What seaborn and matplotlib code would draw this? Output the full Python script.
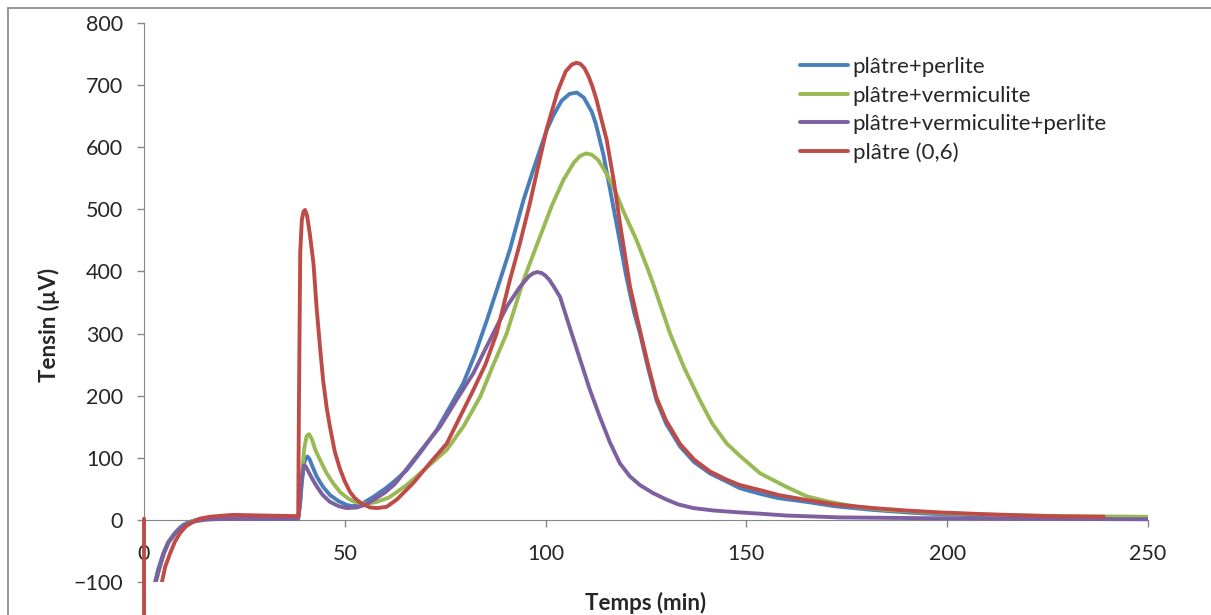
import pandas as pd
import matplotlib
matplotlib.use("Agg")
import matplotlib.pyplot as plt
import seaborn as sns
from matplotlib.lines import Line2D
from matplotlib.patches import Polygon

# --- data (time in min, signal in µV) ---
series_names = ["plâtre+perlite", "plâtre+vermiculite",
                "plâtre+vermiculite+perlite", "plâtre (0,6)"]

perlite_t = [1.5, 2.2, 2.7, 3.5, 4.8, 6, 7.7, 9, 10, 11.5, 13, 14.5, 16.4, 20, 30, 38.4,
             38.8, 39.3, 39.8, 40.3, 40.7, 41.2, 42, 43, 44.5, 46.3, 48.5, 50.5, 52, 54,
             57.1, 60, 62.5, 65.4, 69, 72.9, 76, 79.5, 82.5, 85.3, 88.6, 91.1, 94.5, 97,
             100.3, 102, 104, 106, 107.8, 109.5, 111.5, 112.5, 114.4, 116.4, 118, 120, 122,
             123.5, 125.5, 127.6, 130, 133.5, 137, 140.9, 145, 148.4, 153.4, 158, 165,
             172, 181.6, 190, 198.2, 210, 225, 250]
perlite_v = [-250, -150, -102, -80, -54, -36, -21, -12, -7, -3, 0, 2, 3, 4, 4, 4,
             20, 60, 90, 100, 102, 98, 85, 70, 54, 40, 30, 24, 22, 25,
             37, 50, 63, 80, 110, 145, 180, 220, 268, 320, 385, 435, 515, 565,
             628, 652, 675, 686, 688, 680, 657, 638, 588, 520, 465, 395, 335,
             300, 245, 193, 155, 118, 93, 75, 62, 51, 42, 35, 29,
             22, 16, 12, 9, 7, 5, 3]

vermic_t = [1.5, 2.4, 2.9, 3.8, 5, 6.2, 7.9, 9.2, 10.2, 11.7, 13.2, 14.7, 16.6, 20, 30, 38.4,
            38.9, 39.3, 39.9, 40.5, 41.1, 41.8, 42.7, 43.8, 45.4, 47.1, 48.8, 50.5, 52,
            53.8, 55.5, 58, 61, 65.4, 70, 75.4, 79.5, 83.7, 87, 90.3, 94.5, 98.6, 101.5,
            104.4, 107, 108.6, 110.1, 111.5, 113, 114.5, 116.9, 119.5, 122.6, 125.2, 126.8,
            131, 134.5, 138.4, 141.5, 145.1, 148.4, 153.4, 156.7, 160, 165, 170, 177.4,
            185, 198.2, 213, 230, 250]
vermic_v = [-250, -150, -102, -80, -54, -36, -21, -12, -7, -3, 0, 1, 2, 3, 3, 3,
            30, 70, 115, 135, 138, 130, 112, 97, 76, 59, 45, 36, 30,
            27, 26, 29, 36, 56, 82, 113, 150, 198, 250, 300, 386, 456, 505,
            547, 575, 586, 590, 588, 580, 565, 536, 495, 451, 408, 380,
            300, 245, 193, 155, 123, 103, 75, 64, 53, 38, 30, 21,
            16, 11, 8, 6, 5]

mix_t = [1.5, 2.3, 2.8, 3.7, 4.9, 6.1, 7.8, 9.1, 10.1, 11.6, 13, 15, 17, 20, 30, 38.4,
         38.8, 39.2, 39.8, 40.3, 41, 42, 43, 44.5, 46.3, 48.5, 50.5, 53, 55, 57.1, 60,
         62.5, 65.4, 69, 73.7, 78, 82, 85, 87.8, 90.5, 93.6, 95.8, 96.9, 97.9, 99, 100,
         101, 101.8, 103.6, 106, 108.6, 111, 113.5, 116, 118.5, 121, 123.5, 126.8, 130,
         133, 136.8, 142, 148.4, 153.4, 160, 173.3, 190, 210, 250]
mix_v = [-250, -150, -102, -80, -54, -36, -21, -13, -8, -4, -2, 0, 1, 1.5, 1.5, 1.5,
         25, 60, 88, 86, 77, 65, 54, 40, 29, 22, 19, 20, 24, 32, 44,
         58, 82, 112, 150, 195, 236, 275, 311, 345, 375, 392, 397, 399, 397.5, 393,
         386, 378, 359, 310, 258, 210, 166, 125, 91, 70, 56, 43, 33,
         25, 19, 15, 12, 10, 7, 4, 3, 2, 1]

plain_t = [0, 0.05, 3, 4, 4.4, 5.3, 6.5, 7.7, 9, 10.5, 12.3, 14, 16.4, 20, 22.2, 30, 38.4,
           38.6, 38.9, 39.3, 39.7, 40.1, 40.6, 41.3, 42.2, 43, 43.8, 44.6, 45.5, 46.3,
           47.5, 48.8, 50, 51.3, 52.5, 54, 56.3, 58, 60.4, 63, 67, 71, 75.4, 79, 82, 85,
           87.8, 91.1, 93.6, 96.1, 98, 100.3, 103, 105, 106.5, 107.7, 108.7, 109.7,
           110.7, 111.7, 112.7, 113.5, 115.2, 117, 118.5, 121, 123.5, 125.5, 127.6, 130,
           133.5, 137, 140.9, 145, 148.4, 153.4, 158, 165, 172, 181.6, 190, 198.2, 210,
           225, 239]
plain_v = [2, -900, -250, -130, -102, -75, -54, -35, -21, -10, -3, 2, 5, 7, 8, 7, 6,
           200, 430, 483, 496, 499, 490, 460, 413, 340, 280, 225, 180, 150,
           110, 82, 62, 45, 35, 27, 20, 19, 21, 33, 59, 90, 123, 170, 209, 250,
           300, 386, 445, 510, 565, 630, 690, 722, 733, 736, 734, 727,
           714, 697, 676, 655, 612, 545, 478, 376, 305, 250, 197, 160,
           122, 97, 78, 65, 56, 48, 40, 32, 25, 19, 15, 12, 9,
           6, 5]

colors = {"plâtre+perlite": "#4A7EBB", "plâtre+vermiculite": "#98B954",
          "plâtre+vermiculite+perlite": "#7D60A0", "plâtre (0,6)": "#BE4B48"}

frames = []
for name, t, v in zip(series_names,
                      [perlite_t, vermic_t, mix_t, plain_t],
                      [perlite_v, vermic_v, mix_v, plain_v]):
    frames.append(pd.DataFrame({"Temps": t, "Tensin": v, "serie": name}))
df = pd.concat(frames, ignore_index=True)

sns.set_style("white")
plt.rcParams["font.family"] = ["Lato", "DejaVu Sans"]

fig = plt.figure(figsize=(12.11, 6.15), dpi=100)
ax = fig.add_axes([144 / 1211, 1 - 582 / 615, 1004 / 1211, 559 / 615])

sns.lineplot(data=df, x="Temps", y="Tensin", hue="serie", hue_order=series_names,
             palette=colors, estimator=None, sort=False, linewidth=2.8,
             legend=False, ax=ax)

ax.set_xlim(0, 250)
ax.set_ylim(-100, 800)
ax.set_xticks(range(0, 251, 50))
ax.set_yticks(range(-100, 801, 100))

# curves above the axis lines; the red drop at t=0 runs past the plot bottom like in Excel
for line in ax.lines:
    line.set_zorder(3)
red_line = ax.lines[-1]
clip = Polygon([(-3, 900), (260, 900), (260, -100), (1, -100), (1, -300), (-3, -300)],
               closed=True, transform=ax.transData, visible=False)
ax.add_patch(clip)
red_line.set_clip_box(None)
red_line.set_clip_path(clip)

axis_grey = "#868686"
for side in ["top", "right"]:
    ax.spines[side].set_visible(False)
ax.spines["bottom"].set_position(("data", 0))
ax.spines["bottom"].set_color(axis_grey)
ax.spines["left"].set_color(axis_grey)
ax.tick_params(axis="x", direction="out", length=5, width=1, color=axis_grey,
               pad=12, labelsize=15.5, bottom=True)
ax.tick_params(axis="y", direction="out", length=5, width=1, color=axis_grey,
               pad=10, labelsize=15.5, left=True)

ax.set_xlabel("Temps (min)", fontsize=16, fontweight="bold")
ax.set_ylabel("Tensin (µV)", fontsize=16, fontweight="bold")
ax.xaxis.set_label_coords(0.5, -0.0376)
ax.xaxis.label.set_va("center")
ax.yaxis.set_label_coords(-0.095, 0.46)
ax.yaxis.label.set_va("center")

handles = [Line2D([0], [0], color=colors[n], lw=2.8) for n in series_names]
ax.legend(handles, series_names, loc="upper left", bbox_to_anchor=(0.653, 0.939),
          frameon=False, fontsize=16, handlelength=2.16, handletextpad=0.22,
          labelspacing=0.38, borderpad=0, borderaxespad=0)

# chart area border (only the top and left edges are in view)
fig.add_artist(Line2D([8 / 1211, 8 / 1211], [0, 1 - 8 / 615], transform=fig.transFigure,
                      color=axis_grey, lw=1.2))
fig.add_artist(Line2D([8 / 1211, 1], [1 - 8 / 615, 1 - 8 / 615], transform=fig.transFigure,
                      color=axis_grey, lw=1.2))

fig.savefig("out.png", dpi=100)
